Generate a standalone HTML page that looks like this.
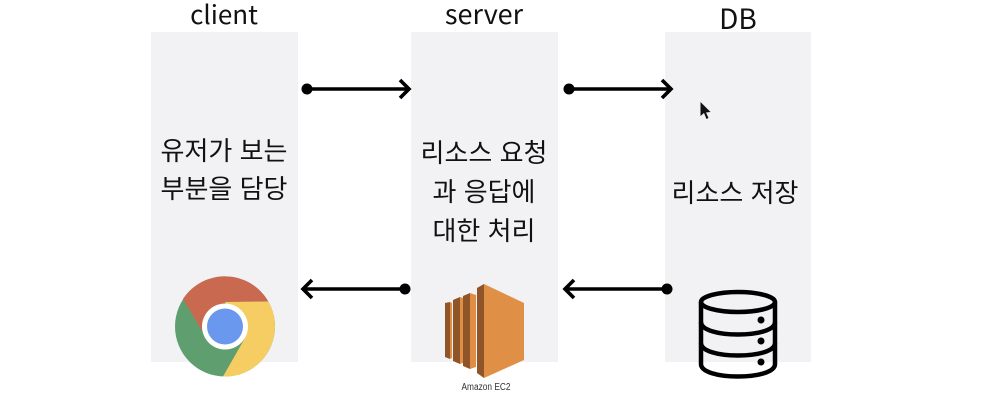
<!DOCTYPE html>
<html lang="ko">
<head>
<meta charset="utf-8">
<style>
html,body{margin:0;padding:0;background:#fff}
svg{display:block}
text{font-family:"Noto Sans CJK KR","Liberation Sans",sans-serif;fill:#111}
</style>
</head>
<body>
<svg width="987" height="402" viewBox="0 0 987 402" xmlns="http://www.w3.org/2000/svg">
<rect x="151" y="32" width="147" height="330" fill="#f2f2f4"/>
<rect x="411" y="32" width="147" height="330" fill="#f2f2f4"/>
<rect x="665" y="32" width="146" height="330" fill="#f2f2f4"/>

<g font-size="26" text-anchor="middle">
<text x="224" y="24">client</text>
<text x="484" y="24" font-size="27">server</text>
<text x="738" y="29" font-size="28">DB</text>
<text x="224" y="160">유저가 보는</text>
<text x="224" y="198">부분을 담당</text>
<text x="484" y="162">리소스 요청</text>
<text x="484" y="201">과 응답에</text>
<text x="484" y="240">대한 처리</text>
<text x="735" y="202">리소스 저장</text>
</g>

<g stroke="#000" stroke-width="3.600" fill="none">
<line x1="307" y1="89" x2="408" y2="89"/>
<polyline points="400,80 409,89 400,98"/>
<line x1="569" y1="89" x2="670" y2="89"/>
<polyline points="662,80 671,89 662,98"/>
<line x1="405" y1="289" x2="304" y2="289"/>
<polyline points="312,280 303,289 312,298"/>
<line x1="667" y1="289" x2="566" y2="289"/>
<polyline points="574,280 565,289 574,298"/>
</g>
<g fill="#000">
<circle cx="307" cy="89" r="5.500"/>
<circle cx="569" cy="89" r="5.500"/>
<circle cx="405" cy="289" r="5.500"/>
<circle cx="667" cy="289" r="5.500"/>
</g>

<!-- cursor -->
<path d="M700.500 102 L700.500 116 L704 113 L706.500 119 L708.500 118 L706 112.500 L710.500 112 Z" fill="#111"/>

<!-- chrome -->
<circle cx="225" cy="326.500" r="50" fill="#5f9e6e"/>
<path d="M183 299 A50 50 0 0 1 268.300 301.500 L225 302 L204 334 Z" fill="#c9694f"/>
<path d="M268.300 301.500 A50 50 0 0 1 223 376.500 L245 338 L225 302 Z" fill="#f5cd62"/>
<circle cx="225" cy="326.500" r="23" fill="#fff"/>
<circle cx="225" cy="326.500" r="18" fill="#6a98ef"/>

<!-- EC2 -->
<g>
<polygon points="445,303 450,302 450,359 445,357" fill="#8f5427"/>
<polygon points="450,302 452,303 452,358 450,359" fill="#df8f45"/>
<polygon points="453,300 460,297 460,364 453,361" fill="#8f5427"/>
<polygon points="460,297 463,298 463,363 460,364" fill="#df8f45"/>
<polygon points="463,296 470,293 470,369 463,366" fill="#8f5427"/>
<polygon points="470,293 476,295 476,367 470,369" fill="#df8f45"/>
<polygon points="477,288 484,284 484,378 477,373" fill="#8f5427"/>
<polygon points="484,284 524,303 524,360 484,378" fill="#e08f47"/>
<text x="486" y="390" font-size="10" text-anchor="middle" textLength="49" lengthAdjust="spacingAndGlyphs" style="fill:#333;font-family:'Liberation Sans',sans-serif">Amazon EC2</text>
</g>

<!-- database -->
<g fill="none" stroke="#000" stroke-width="4.500">
<ellipse cx="738" cy="302" rx="37" ry="10"/>
<path d="M701 302 V364 C701 372 718 376.500 738 376.500 C758 376.500 775 372 775 364 V302"/>
<path d="M701 322 C701 330 718 334.500 738 334.500 C758 334.500 775 330 775 322"/>
<path d="M701 343 C701 351 718 355.500 738 355.500 C758 355.500 775 351 775 343"/>
</g>
<g fill="#000">
<circle cx="761" cy="320" r="3.500"/>
<circle cx="761" cy="341" r="3.500"/>
<circle cx="761" cy="362" r="3.500"/>
</g>
</svg>
</body>
</html>
